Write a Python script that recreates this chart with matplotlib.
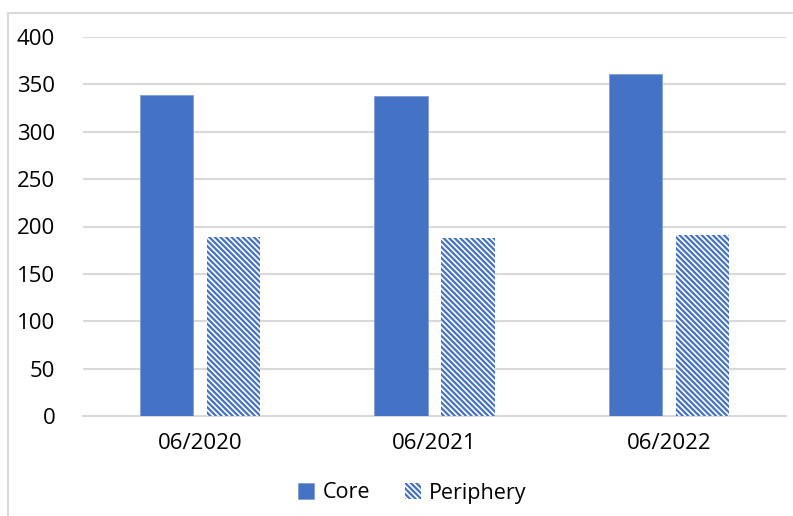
import matplotlib
matplotlib.use("Agg")
import matplotlib.pyplot as plt
import numpy as np
from matplotlib.lines import Line2D

# values
categories = ["06/2020", "06/2021", "06/2022"]
core = [339, 338, 361]
periphery = [189, 188, 191]
yticks = [0, 50, 100, 150, 200, 250, 300, 350, 400]

blue = "#4472C4"
grid = "#d9d9d9"

plt.rcParams["font.family"] = ["Open Sans", "DejaVu Sans"]
plt.rcParams["hatch.linewidth"] = 1.6
plt.rcParams["hatch.color"] = blue

fig = plt.figure(figsize=(7.93, 5.16), dpi=100, facecolor="white")
ax = fig.add_axes([83 / 793, 1 - 416 / 516, 703 / 793, 379 / 516])

x = np.arange(len(categories))
w = 0.227
off = 0.143
ax.bar(x - off, core, w, color=blue, edgecolor="#7f9ed6", linewidth=0.6,
       label="Core", zorder=3)
ax.bar(x + off, periphery, w, color="white", edgecolor=blue, hatch="\\" * 6,
       linewidth=0, label="Periphery", zorder=3)

ax.set_xlim(-0.5, 2.5)
ax.set_ylim(0, 400)
ax.set_yticks(yticks)
ax.set_xticks(x)
ax.set_xticklabels(categories)
ax.tick_params(axis="y", length=0, pad=20, labelsize=16)
ax.tick_params(axis="x", length=0, pad=12, labelsize=16)
ax.yaxis.grid(True, color=grid, linewidth=1.5, zorder=0)
ax.set_axisbelow(True)
for s in ["top", "right", "left"]:
    ax.spines[s].set_visible(False)
ax.spines["bottom"].set_color(grid)
ax.spines["bottom"].set_linewidth(1.5)

leg = fig.legend(loc="center", bbox_to_anchor=(0.52, 1 - 493 / 516), ncol=2,
                 frameon=False, fontsize=15.5, handlelength=0.75,
                 handleheight=0.75, handletextpad=0.4, columnspacing=1.6)

# light frame around the chart area (only top and left visible)
fig.add_artist(Line2D([8 / 793, 8 / 793], [0, 1 - 13 / 516], color=grid,
                      linewidth=1.5, transform=fig.transFigure))
fig.add_artist(Line2D([8 / 793, 1], [1 - 13 / 516, 1 - 13 / 516], color=grid,
                      linewidth=1.5, transform=fig.transFigure))

fig.savefig("out.png", dpi=100, facecolor="white")
